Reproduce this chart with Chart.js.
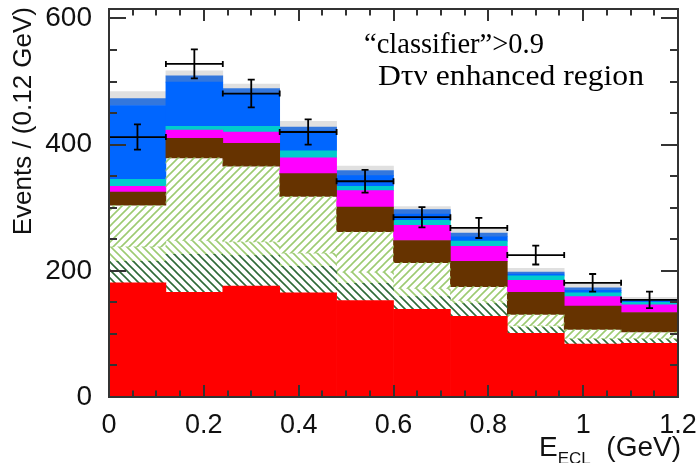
<!DOCTYPE html>
<html>
<head>
<meta charset="utf-8">
<script src="https://cdn.jsdelivr.net/npm/chart.js@4/dist/chart.umd.min.js"></script>
<style>
  html, body { margin: 0; padding: 0; background: #ffffff; }
  #wrap { width: 697px; height: 463px; }
</style>
</head>
<body>
<div id="wrap"><canvas id="c" width="697" height="463"></canvas></div>
<script>
// E_ECL bins (GeV): centres and half width
const binCenters = [0.06, 0.18, 0.30, 0.42, 0.54, 0.66, 0.78, 0.90, 1.02, 1.14];
const binHalfWidth = 0.06;

// Stacked MC components, events per bin (bottom to top)
const otherBkg      = [181, 166, 176, 165, 153, 139, 128, 101, 84, 85];
const darkHatched   = [34, 60, 48, 42, 27, 20, 20, 9, 7, 6];
const midHatched    = [23, 22, 22, 21, 18, 13, 5, 3, 2, 2];
const lightHatched  = [66, 131, 120, 90, 64, 41, 22, 18, 14, 10];
const brownComp     = [21, 31, 36, 36, 39, 35, 40, 35, 37, 31];
const magentaComp   = [9, 13, 18, 25, 26, 24, 24, 19, 15, 12];
const cyanComp      = [11, 6, 9, 11, 7, 8, 8, 7, 6, 4];
const blueComp      = [117, 70, 52, 32, 17, 10, 7, 3, 4, 2];
const midBlueComp   = [11, 10, 8, 6, 8, 7, 6, 3, 4, 2];
const greyComp      = [11, 8, 7, 9, 7, 5, 7, 6, 6, 4];

// Observed data with statistical errors
const dataCounts = [412, 528, 481, 420, 342, 285, 268, 225, 181, 154];
const dataErrors = [20, 23, 22, 20, 18, 16, 16, 15, 14, 13];

// Axis ticks
const xTickValues = [0, 0.2, 0.4, 0.6, 0.8, 1, 1.2];
const yTickValues = [0, 200, 400, 600];

const SANS = '"Liberation Sans", Arial, Helvetica, sans-serif';
const SERIF = '"Liberation Serif", "Times New Roman", serif';

// Diagonal hatch fill; dir = 1 for "/" lines, -1 for "\" lines
function hatch(color, dir) {
  const s = 8;
  const cv = document.createElement('canvas');
  cv.width = s; cv.height = s;
  const g = cv.getContext('2d');
  g.strokeStyle = color;
  g.lineWidth = 1.6;
  g.beginPath();
  if (dir > 0) {
    g.moveTo(-2, s + 2); g.lineTo(s + 2, -2);
    g.moveTo(-2, 2); g.lineTo(2, -2);
    g.moveTo(s - 2, s + 2); g.lineTo(s + 2, s - 2);
  } else {
    g.moveTo(-2, -2); g.lineTo(s + 2, s + 2);
    g.moveTo(-2, s - 2); g.lineTo(2, s + 2);
    g.moveTo(s - 2, -2); g.lineTo(s + 2, 2);
  }
  g.stroke();
  return g.createPattern(cv, 'repeat');
}

function toPoints(arr) {
  return arr.map((v, i) => ({ x: binCenters[i], y: v }));
}

function layer(label, values, fill) {
  return {
    type: 'bar',
    label: label,
    data: toPoints(values),
    backgroundColor: fill,
    borderWidth: 0,
    stack: 'mc',
    barPercentage: 1,
    categoryPercentage: 1
  };
}

const rootStyle = {
  id: 'rootStyle',
  beforeDraw(chart) {
    const c = chart.ctx;
    c.save();
    c.fillStyle = '#ffffff';
    c.fillRect(0, 0, chart.width, chart.height);
    c.restore();
  },
  afterDatasetsDraw(chart) {
    const c = chart.ctx;
    const xs = chart.scales.x, ys = chart.scales.y;
    const a = chart.chartArea;

    // data points with error bars
    c.save();
    c.strokeStyle = '#000000';
    c.lineWidth = 1.8;
    dataCounts.forEach((v, i) => {
      const x1 = xs.getPixelForValue(binCenters[i] - binHalfWidth);
      const x2 = xs.getPixelForValue(binCenters[i] + binHalfWidth);
      const xc = xs.getPixelForValue(binCenters[i]);
      const yc = ys.getPixelForValue(v);
      const yt = ys.getPixelForValue(v + dataErrors[i]);
      const yb = ys.getPixelForValue(v - dataErrors[i]);
      c.beginPath();
      c.moveTo(x1, yc); c.lineTo(x2, yc);
      c.moveTo(x1, yc - 3); c.lineTo(x1, yc + 3);
      c.moveTo(x2, yc - 3); c.lineTo(x2, yc + 3);
      c.moveTo(xc, yt); c.lineTo(xc, yb);
      c.moveTo(xc - 3.5, yt); c.lineTo(xc + 3.5, yt);
      c.moveTo(xc - 3.5, yb); c.lineTo(xc + 3.5, yb);
      c.stroke();
    });
    c.restore();

    // frame and inward ticks on all four sides
    c.save();
    c.strokeStyle = '#333333';
    c.lineWidth = 2;
    c.strokeRect(a.left, a.top, a.right - a.left, a.bottom - a.top);
    c.beginPath();
    for (let k = 0; k <= 24; k++) {
      const v = k * 0.05;
      const px = Math.round(xs.getPixelForValue(v));
      const len = (k % 4 === 0) ? 12 : 6.5;
      c.moveTo(px, a.bottom); c.lineTo(px, a.bottom - len);
      c.moveTo(px, a.top); c.lineTo(px, a.top + len);
    }
    for (let k = 0; k <= 12; k++) {
      const v = k * 50;
      const py = Math.round(ys.getPixelForValue(v));
      const len = (k % 4 === 0) ? 17 : 8;
      c.moveTo(a.left, py); c.lineTo(a.left + len, py);
      c.moveTo(a.right, py); c.lineTo(a.right - len, py);
    }
    c.stroke();
    c.restore();
  },
  afterDraw(chart) {
    const c = chart.ctx;
    c.save();
    c.fillStyle = '#111111';

    // y axis title, aligned to the top end
    c.save();
    c.font = '26px ' + SANS;
    c.translate(24, 7);
    c.rotate(-Math.PI / 2);
    c.textAlign = 'right';
    c.textBaseline = 'middle';
    c.fillText('Events / (0.12 GeV)', 0, 0);
    c.restore();

    // x axis title with subscript, aligned to the right end
    const big = '28px ' + SANS, small = '17px ' + SANS;
    c.font = big;
    const wE = c.measureText('E').width;
    const wTail = c.measureText('  (GeV)').width;
    c.font = small;
    const wSub = c.measureText('ECL').width;
    const right = 681;
    let x = right - wE - wSub - wTail;
    c.textAlign = 'left';
    c.textBaseline = 'alphabetic';
    c.font = big;
    c.fillText('E', x, 456);
    x += wE;
    c.font = small;
    c.fillText('ECL', x, 464);
    x += wSub;
    c.font = big;
    c.fillText('  (GeV)', x, 456);

    // selection annotation
    c.fillStyle = '#000000';
    const fitText = (txt, x0, yb, w) => {
      c.font = '29px ' + SERIF;
      const m = c.measureText(txt).width;
      c.save();
      c.translate(x0, yb);
      c.scale(w / m, 1);
      c.fillText(txt, 0, 0);
      c.restore();
    };
    fitText('\u201Cclassifier\u201D>0.9', 364, 53, 180);
    fitText('D\u03C4\u03BD enhanced region', 378, 85, 266);
    c.restore();
  }
};

new Chart(document.getElementById('c'), {
  type: 'bar',
  data: {
    datasets: [
      layer('Other background', otherBkg, '#ff0000'),
      layer('Dark hatched', darkHatched, hatch('#2f6a38', -1)),
      layer('Light hatched (\\)', midHatched, hatch('#9dcb72', -1)),
      layer('Light hatched (/)', lightHatched, hatch('#9dcb72', 1)),
      layer('Brown', brownComp, '#663300'),
      layer('Magenta', magentaComp, '#ff00ff'),
      layer('Cyan', cyanComp, '#00cccc'),
      layer('Blue', blueComp, '#0066ff'),
      layer('Mid blue', midBlueComp, '#3377dd'),
      layer('Grey', greyComp, '#e0e0e0'),
      {
        type: 'scatter',
        label: 'Data',
        data: toPoints(dataCounts),
        pointRadius: 0,
        pointHoverRadius: 0,
        showLine: false
      }
    ]
  },
  options: {
    responsive: false,
    animation: false,
    devicePixelRatio: 1,
    layout: { padding: { left: 0, right: 19, top: 9, bottom: 0 } },
    plugins: { legend: { display: false }, tooltip: { enabled: false }, title: { display: false } },
    scales: {
      x: {
        type: 'linear',
        min: 0,
        max: 1.2,
        offset: false,
        grid: { display: false, drawTicks: false, offset: false },
        border: { display: false },
        afterBuildTicks: s => { s.ticks = xTickValues.map(v => ({ value: v })); },
        afterFit: s => { s.height = 66; s.paddingLeft = 0; s.paddingRight = 0; },
        ticks: {
          autoSkip: false,
          maxRotation: 0,
          minRotation: 0,
          padding: 12,
          color: '#111111',
          font: { family: SANS, size: 27 },
          callback: v => String(+Number(v).toFixed(2))
        }
      },
      y: {
        type: 'linear',
        min: 0,
        max: 615,
        grid: { display: false, drawTicks: false },
        border: { display: false },
        afterBuildTicks: s => { s.ticks = yTickValues.map(v => ({ value: v })); },
        afterFit: s => { s.width = 109; s.paddingTop = 0; s.paddingBottom = 0; },
        ticks: {
          padding: 17,
          color: '#111111',
          font: { family: SANS, size: 28 },
          callback: v => String(v)
        }
      }
    }
  },
  plugins: [rootStyle]
});
</script>
</body>
</html>
